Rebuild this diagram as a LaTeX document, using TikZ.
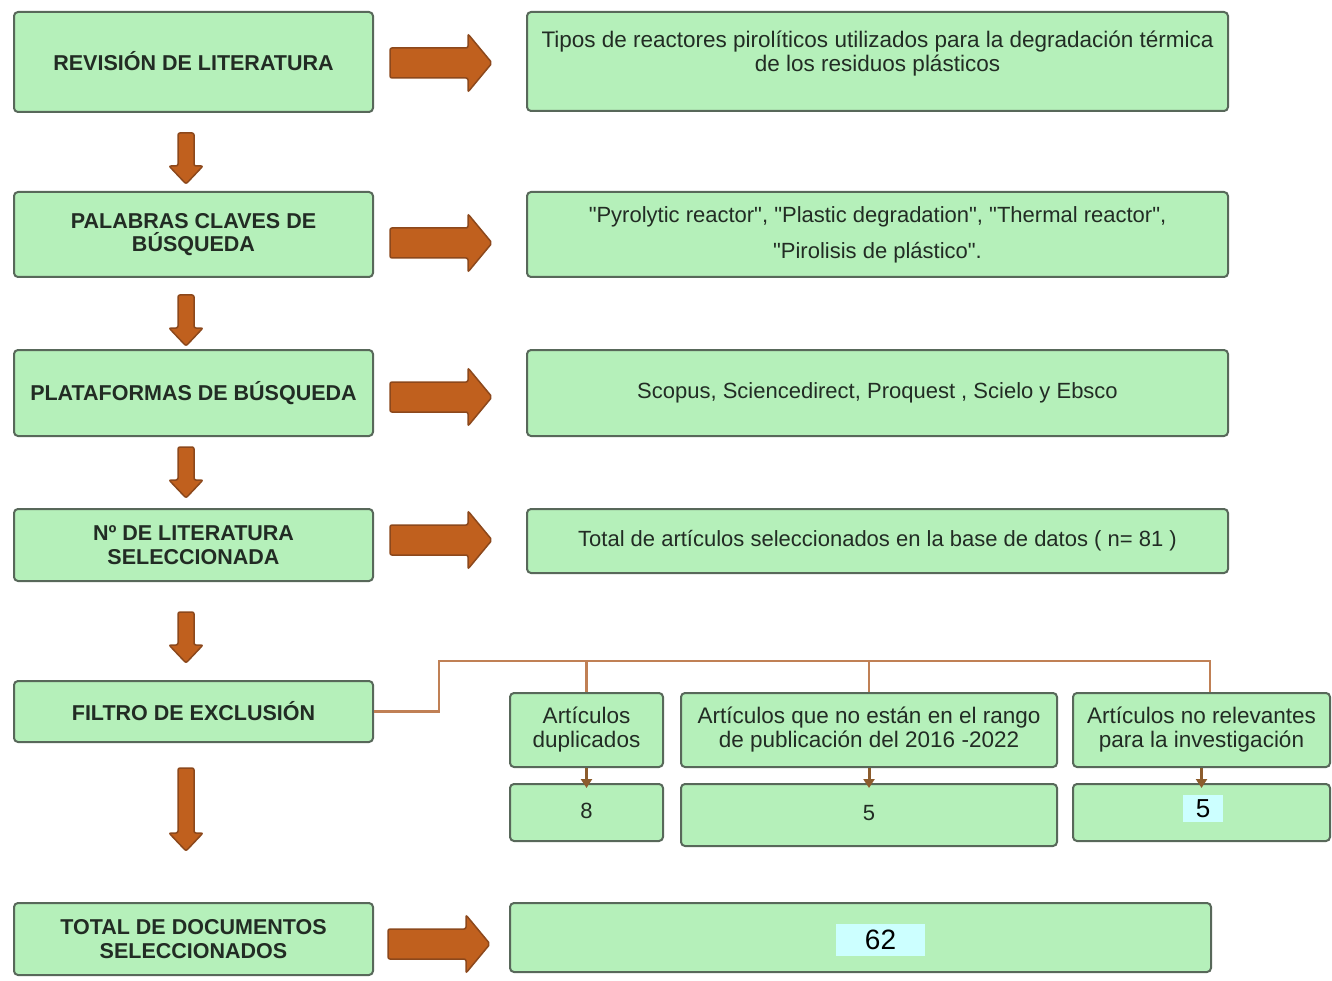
\documentclass[tikz,border=0pt]{standalone}
\usepackage{fontspec}
\setmainfont{Liberation Sans}
\usetikzlibrary{arrows.meta,calc}
\definecolor{boxfill}{RGB}{181,240,186}
\definecolor{boxline}{RGB}{88,104,90}
\definecolor{txt}{RGB}{34,44,36}
\definecolor{arrfill}{RGB}{192,96,30}
\definecolor{arrline}{RGB}{140,72,28}
\definecolor{conncol}{RGB}{192,128,85}
\definecolor{tipcol}{RGB}{140,92,45}
\definecolor{cyanbg}{RGB}{204,255,255}
\tikzset{
  box/.style={draw=boxline, fill=boxfill, line width=2pt, rounded corners=4pt, inner sep=0pt, align=center, text=txt},
  lbox/.style={box, minimum width=359pt, font=\bfseries\fontsize{21.5}{23.5}\selectfont},
  rbox/.style={box, minimum width=701pt, font=\fontsize{22}{24}\selectfont},
  sbox/.style={box, minimum height=74pt, font=\fontsize{22.5}{24}\selectfont},
  nbox/.style={box, font=\fontsize{22}{24}\selectfont},
  blockarrow/.style={draw=arrline, fill=arrfill, line width=1.5pt, rounded corners=2pt},
  conn/.style={draw=conncol, line width=2.5pt},
  smallarr/.style={draw=tipcol, line width=3pt, -{Triangle[width=11pt,length=9pt]}},
  patch/.style={fill=cyanbg, inner sep=0pt, text=black},
  rarr/.pic={\path[blockarrow] (-51,-15) -- (27,-15) -- (27,-29) -- (51,0) -- (27,29) -- (27,15) -- (-51,15) -- cycle;}
}
% down block arrow: x, y top, y bottom
\newcommand\downblock[3]{\path[blockarrow] (#1-8,#2) -- (#1+8,#2) -- (#1+8,#3-18) -- (#1+17,#3-18) -- (#1,#3) -- (#1-17,#3-18) -- (#1-8,#3-18) -- cycle;}
\begin{document}
\begin{tikzpicture}[x=1pt,y=-1pt]
\useasboundingbox (0,0) rectangle (1332,981);
% left column
\node[lbox, minimum height=100pt] (L1) at (193.5,62) {\raisebox{1.5pt}{REVISIÓN DE LITERATURA}};
\node[lbox, minimum height=85pt] (L2) at (193.5,234.5) {PALABRAS CLAVES DE\\BÚSQUEDA};
\node[lbox, minimum height=86pt] (L3) at (193.5,393) {\raisebox{2pt}{PLATAFORMAS DE BÚSQUEDA}};
\node[lbox, minimum height=72pt] (L4) at (193.5,545) {Nº DE LITERATURA\\SELECCIONADA};
\node[lbox, minimum height=61pt] (L5) at (193.5,711.5) {\raisebox{2pt}{FILTRO DE EXCLUSIÓN}};
\node[lbox, minimum height=72pt] (L6) at (193.5,939) {TOTAL DE DOCUMENTOS\\SELECCIONADOS};
% right column
\node[rbox, minimum height=99pt] (R1) at (877.5,61.5) {};
\node[font=\fontsize{22.5}{24}\selectfont, align=center, text=txt, inner sep=0pt] (R1t) at (877.5,54) {Tipos de reactores pirolíticos utilizados para la degradación térmica\\de los residuos plásticos};
\node[rbox, minimum height=85pt, font=\fontsize{22}{36}\selectfont] (R2) at (877.5,234.5) {\textquotedbl Pyrolytic reactor\textquotedbl, \textquotedbl Plastic degradation\textquotedbl, \textquotedbl Thermal reactor\textquotedbl,\\\textquotedbl Pirolisis de plástico\textquotedbl.};
\node[rbox, minimum height=86pt] (R3) at (877.5,393) {Scopus, Sciencedirect, Proquest , Scielo y Ebsco};
\node[rbox, minimum height=64pt] (R4) at (877.5,541) {Total de artículos seleccionados en la base de datos ( n= 81 )};
\node[rbox, minimum height=69pt] (R6) at (860.5,937.5) {};
\node[patch, minimum width=89pt, minimum height=32pt, font=\fontsize{28}{30}\selectfont] (v62) at (880.5,940) {62};
% exclusion sub boxes
\node[sbox, minimum width=153pt] (Sa) at (586.5,730) {Artículos\\duplicados};
\node[sbox, minimum width=376pt] (Sb) at (869,730) {Artículos que no están en el rango\\de publicación del 2016 -2022};
\node[sbox, minimum width=257pt] (Sc) at (1201.5,730) {Artículos no relevantes\\para la investigación};
\node[nbox, minimum width=153pt, minimum height=57pt] (Na) at (586.5,812.5) {\raisebox{3pt}{8}};
\node[nbox, minimum width=376pt, minimum height=62pt] (Nb) at (869,815) {\raisebox{5pt}{5}};
\node[nbox, minimum width=257pt, minimum height=57pt] (Nc) at (1201.5,812.5) {};
\node[patch, minimum width=40pt, minimum height=27pt, font=\fontsize{26}{28}\selectfont] (v5) at (1203,808.5) {5};
% big right arrows
\pic at (441,63) {rarr};
\pic at (441,243) {rarr};
\pic at (441,397) {rarr};
\pic at (441,540) {rarr};
\pic at (439,944) {rarr};
% down arrows
\downblock{186}{133}{184}
\downblock{186}{295}{346}
\downblock{186}{447}{498}
\downblock{186}{612}{663}
\downblock{186}{768}{851}
% connector from filter
\coordinate (j0) at (439,661);
\coordinate (j3) at (1210,661);
\draw[conn] (L5.east) -| (j0) -- (j3) -- (j3 |- Sc.north);
\draw[conn] (Sa.north |- j0) -- (Sa.north);
\draw[conn] (Sb.north |- j0) -- (Sb.north);
% small arrows
\draw[smallarr] (Sa.south) -- ([yshift=-5pt]Na.north);
\draw[smallarr] (Sb.south) -- ([yshift=-5pt]Nb.north);
\draw[smallarr] (Sc.south) -- ([yshift=-5pt]Nc.north);
\end{tikzpicture}
\end{document}
